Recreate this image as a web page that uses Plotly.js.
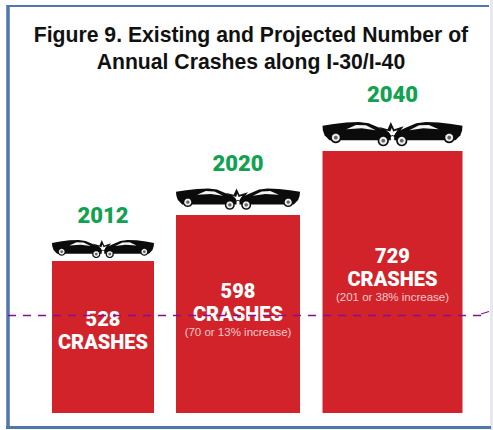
<!DOCTYPE html>
<html><head><meta charset="utf-8">
<script src="https://cdn.plot.ly/plotly-3.0.1.min.js"></script>
<style>html,body{margin:0;padding:0;background:#fff}#c{width:493px;height:430px}</style>
</head><body><div id="c"></div>
<script>
// Data
const years = ['2012','2020','2040'];
const crashes = [528,598,729];
const increases = ['', '(70 or 13% increase)', '(201 or 38% increase)'];
// The drawn bars are not to scale with the crash counts, so their drawn lengths are read separately
const drawnLength = [152,198,262];

// Layout of the graphic (axis units are pixels of the 493x430 picture)
const centers = [103,238,392.5];
const widths = [102,124,140];
const baseY = 413;
const RED='#D2232A', GREEN='#12A150', FRAME='#4F77AB';

const yearY = [217,165,96];
const numberY = [321,292.5,258];
const wordY = [344,315.5,281];
const noteY = [333.5,298];
const carTop = [240,188.5,122];
const carH = [18,21,24];

const heavy='Roboto, "Liberation Sans", Arial, sans-serif';
const traces=[
 {type:'bar',x:centers,y:drawnLength,width:widths,marker:{color:RED,line:{width:0}},hoverinfo:'skip'},
 {type:'scatter',mode:'text',x:centers,y:yearY.map(v=>baseY-v),text:years,
  textposition:'middle center',textfont:{family:heavy,size:22,weight:900,color:GREEN},hoverinfo:'skip'},
 {type:'scatter',mode:'text',x:centers,y:numberY.map(v=>baseY-v),text:crashes.map(String),
  textposition:'middle center',textfont:{family:heavy,size:20,weight:900,color:'#fff'},hoverinfo:'skip'},
 {type:'scatter',mode:'text',x:centers,y:wordY.map(v=>baseY-v),text:crashes.map(()=>'CRASHES'),
  textposition:'middle center',textfont:{family:heavy,size:20,weight:900,color:'#fff'},hoverinfo:'skip'},
 {type:'scatter',mode:'text',x:centers.slice(1),y:noteY.map(v=>baseY-v),text:increases.slice(1),
  textposition:'middle center',textfont:{family:'"Liberation Sans",Arial,sans-serif',size:11.5,color:'#f3c9cb'},hoverinfo:'skip'}
];

function carShapes(cx,w,top,h){
  // local coords: u in [-.5,.5] across icon, v in [0,1] from top to bottom
  const X=u=>cx+u*w, Y=v=>baseY-(top+v*h);
  const poly=(pts,s)=>'M'+pts.map(p=>X(s*p[0]).toFixed(2)+','+Y(p[1]).toFixed(2)).join(' L')+' Z';
  const body=[[.5,.16],[.42,.08],[.33,.02],[.24,0],[.17,.05],[.09,.25],[.03,.42],[.012,.55],[.012,.76],[.1,.76],[.34,.76],[.45,.76],[.485,.55],[.497,.35]];
  const glass=[[.33,.3],[.26,.12],[.19,.14],[.12,.34],[.22,.26]];
  const spikes=[[-.05,.42],[-.1,.2],[-.035,.3],[-.012,0],[.012,.3],[.08,.18],[.05,.42],[.03,.66],[0,.58],[-.03,.66]];
  const out=[];
  const add=(d,c)=>out.push({type:'path',xref:'x',yref:'y',path:d,fillcolor:c,line:{width:0},layer:'above'});
  add(poly(spikes,1),'#111');
  add(poly(spikes.map(p=>[p[0]*.45,.25+p[1]*.5]),1),'#fff');
  [-1,1].forEach(s=>{
    add(poly(body,s),'#0b0b0b');
    add(poly(glass,s),'#f4f4f4');
    [[.405,.65],[.066,.78]].forEach(a=>{
      const cu=s*a[0], cv=a[1], R=.04;
      const circ=(r,c)=>{
        const ry=r*w/h, n=20, pts=[];
        for(let i=0;i<n;i++){const t=i/n*2*Math.PI;pts.push([cu+r*Math.cos(t),cv+ry*Math.sin(t)]);}
        add(poly(pts,1),c);
      };
      circ(R,'#0b0b0b');circ(R*.7,'#eee');circ(R*.34,'#666');
    });
  });
  return out;
}

const ln=(x0,y0,x1,y1,color,width,dash)=>({type:'line',xref:'x',yref:'y',x0,x1,y0:baseY-y0,y1:baseY-y1,line:{color,width,dash:dash||'solid'},layer:'above'});
const shapes=[
 {type:'rect',xref:'x',yref:'y',x0:490,x1:493,y0:baseY-430,y1:baseY,fillcolor:'#E6E8EE',line:{width:0},layer:'below'},
 ln(8,6,489,6,FRAME,2),
 ln(8,5,8,429,FRAME,3.5),
 ln(6,427.5,491,427.5,FRAME,3),
 ...carShapes(centers[0],widths[0],carTop[0],carH[0]),
 ...carShapes(centers[1],widths[1],carTop[1],carH[1]),
 ...carShapes(centers[2],widths[2],carTop[2],carH[2]),
 ln(8,315.5,482,315.5,'#84108F',1.4,'8px,7px'),
 ln(481,314,489,311.5,'#84108F',1.2)
];

Plotly.newPlot('c',traces,{
  width:493,height:430,margin:{l:0,r:0,t:0,b:0},autosize:false,
  paper_bgcolor:'#fff',plot_bgcolor:'#fff',showlegend:false,
  title:{text:'Figure 9. Existing and Projected Number of<br>Annual Crashes along I-30/I-40',
    font:{family:'"Liberation Sans",Arial,sans-serif',size:21.2,color:'#111',weight:700},x:0.509,xanchor:'center',y:0.903,yanchor:'middle'},
  xaxis:{range:[0,493],visible:false,fixedrange:true},
  yaxis:{range:[baseY-430,baseY],visible:false,fixedrange:true},
  shapes:shapes
},{displayModeBar:false,staticPlot:true});
</script></body></html>
